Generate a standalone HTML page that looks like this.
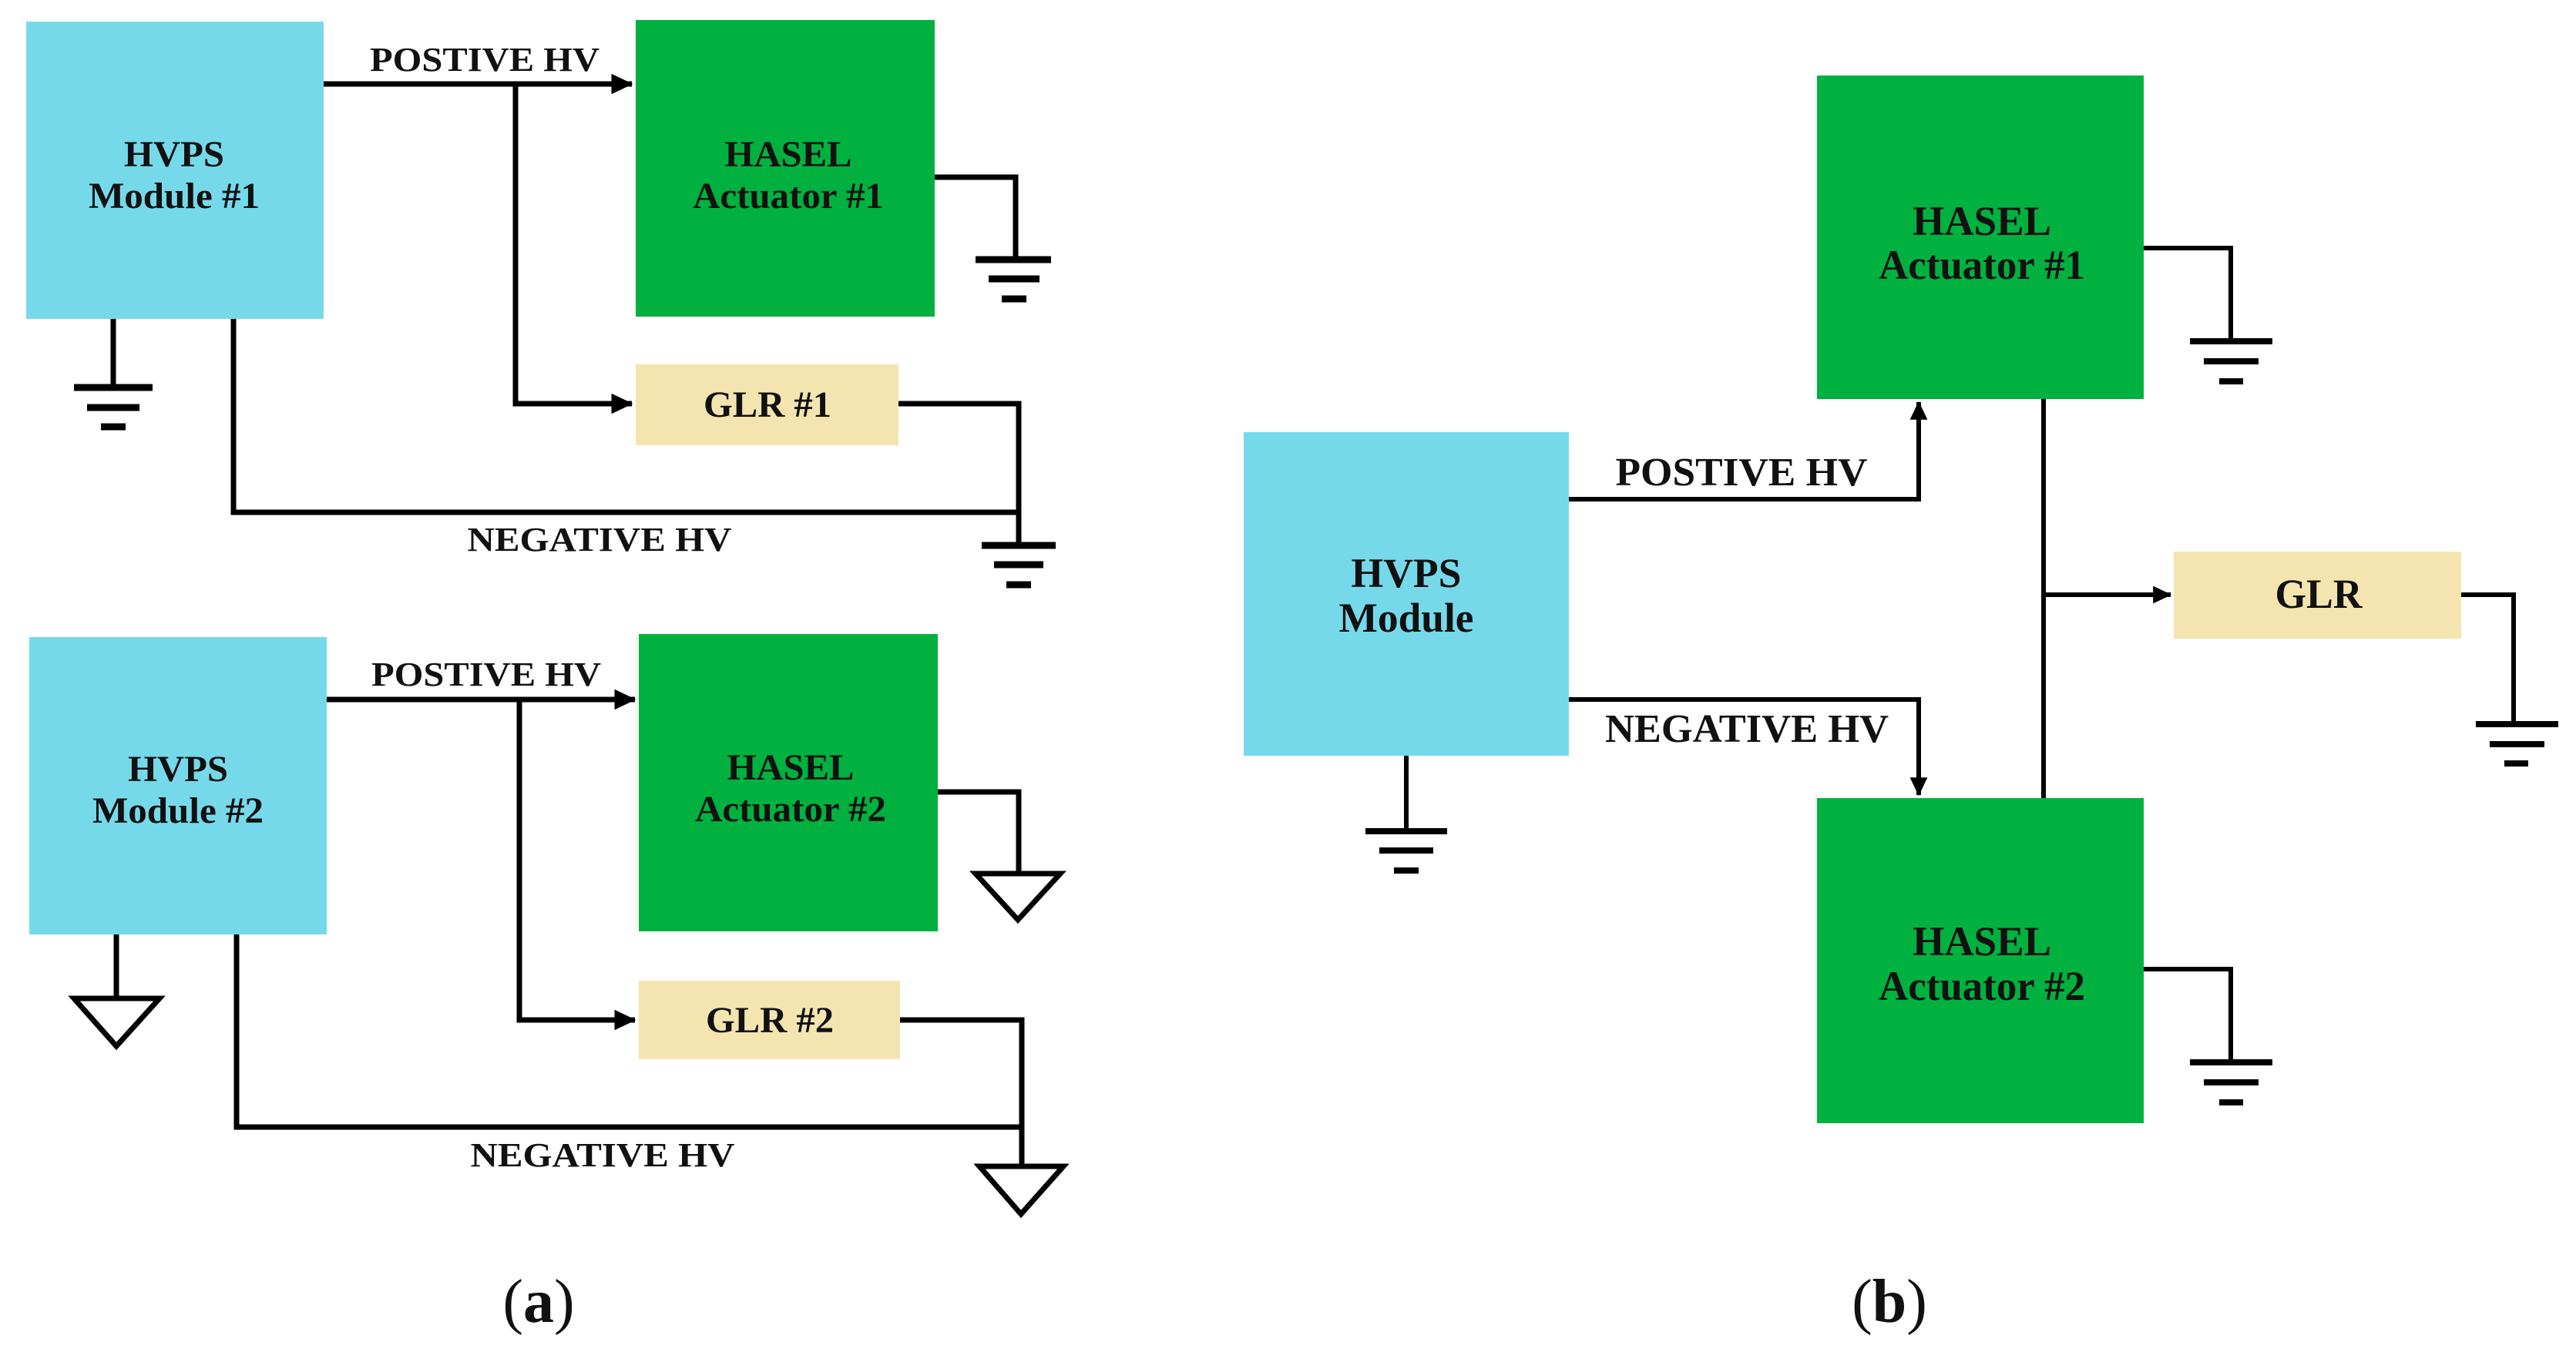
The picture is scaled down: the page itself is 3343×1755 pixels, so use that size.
<!DOCTYPE html>
<html><head><meta charset="utf-8"><style>
html,body{margin:0;padding:0;background:#fff}
svg{display:block}
text{font-family:"Liberation Serif",serif;font-weight:bold;fill:#111}
</style></head><body>
<svg width="3343" height="1755" viewBox="0 0 3343 1755" xmlns="http://www.w3.org/2000/svg">
<defs>
<marker id="ar" markerWidth="5" markerHeight="5" refX="3.8" refY="2.5" orient="auto" markerUnits="strokeWidth">
<path d="M0,0.6 L4,2.5 L0,4.4 Z" fill="#000"/></marker>
</defs>
<g fill="none" stroke="#000" stroke-width="7">
<rect x="34" y="28" width="386" height="386" fill="#76d9ea" stroke="none"/>
<rect x="825" y="26" width="388" height="385" fill="#00b140" stroke="none"/>
<rect x="825" y="473" width="341" height="105" fill="#f4e4b0" stroke="none"/>
<line x1="420" y1="109" x2="820" y2="109" marker-end="url(#ar)"/>
<polyline points="669,109 669,524 820,524" marker-end="url(#ar)"/>
<polyline points="1213,230 1318,230 1318,337"/>
<polyline points="147,414 147,503"/>
<polyline points="303,414 303,665 1322,665"/>
<polyline points="1166,524 1322,524 1322,708"/>
<g stroke-width="9">
<line x1="1266" y1="337" x2="1364" y2="337"/><line x1="1283" y1="362" x2="1349" y2="362"/><line x1="1300" y1="388" x2="1332" y2="388"/>
<line x1="96" y1="503" x2="198" y2="503"/><line x1="113" y1="529" x2="181" y2="529"/><line x1="131" y1="554" x2="163" y2="554"/>
<line x1="1274" y1="708" x2="1370" y2="708"/><line x1="1290" y1="733" x2="1354" y2="733"/><line x1="1306" y1="759" x2="1338" y2="759"/>
</g>
<rect x="38" y="827" width="386" height="386" fill="#76d9ea" stroke="none"/>
<rect x="829" y="823" width="388" height="386" fill="#00b140" stroke="none"/>
<rect x="829" y="1273" width="339" height="102" fill="#f4e4b0" stroke="none"/>
<line x1="424" y1="908" x2="824" y2="908" marker-end="url(#ar)"/>
<polyline points="674,908 674,1324 824,1324" marker-end="url(#ar)"/>
<polyline points="1217,1028 1322,1028 1322,1134"/>
<polygon points="1266,1134 1376,1134 1321,1194"/>
<polyline points="151,1213 151,1296"/>
<polygon points="96,1296 207,1296 151,1358"/>
<polyline points="307,1213 307,1463 1326,1463"/>
<polyline points="1168,1324 1326,1324 1326,1514"/>
<polygon points="1271,1514 1380,1514 1325,1576"/>
<rect x="1614" y="561" width="422" height="420" fill="#76d9ea" stroke="none"/>
<rect x="2358" y="98" width="424" height="420" fill="#00b140" stroke="none"/>
<rect x="2358" y="1036" width="424" height="422" fill="#00b140" stroke="none"/>
<rect x="2821" y="716" width="373" height="113" fill="#f4e4b0" stroke="none"/>
<g stroke-width="6">
<polyline points="2036,648 2490,648 2490,522" marker-end="url(#ar)"/>
<polyline points="2036,908 2490,908 2490,1032" marker-end="url(#ar)"/>
<line x1="2652" y1="518" x2="2652" y2="1036"/>
<line x1="2652" y1="772" x2="2817" y2="772" marker-end="url(#ar)"/>
<polyline points="2782,322 2895,322 2895,443"/>
<polyline points="2782,1258 2895,1258 2895,1379"/>
<polyline points="3194,772 3262,772 3262,940"/>
<polyline points="1825,981 1825,1079"/>
</g>
<g stroke-width="8">
<line x1="2842" y1="443" x2="2949" y2="443"/><line x1="2860" y1="469" x2="2931" y2="469"/><line x1="2880" y1="495" x2="2911" y2="495"/>
<line x1="2842" y1="1379" x2="2949" y2="1379"/><line x1="2860" y1="1405" x2="2931" y2="1405"/><line x1="2880" y1="1431" x2="2911" y2="1431"/>
<line x1="3213" y1="940" x2="3320" y2="940"/><line x1="3231" y1="966" x2="3302" y2="966"/><line x1="3250" y1="991" x2="3281" y2="991"/>
<line x1="1772" y1="1079" x2="1878" y2="1079"/><line x1="1790" y1="1104" x2="1860" y2="1104"/><line x1="1809" y1="1130" x2="1841" y2="1130"/>
</g>
</g>
<g text-anchor="middle">
<text x="629" y="92" font-size="44" textLength="298" lengthAdjust="spacingAndGlyphs">POSTIVE HV</text>
<text x="226" y="216" font-size="48" textLength="130" lengthAdjust="spacingAndGlyphs">HVPS</text>
<text x="226" y="270" font-size="48" textLength="222" lengthAdjust="spacingAndGlyphs">Module #1</text>
<text x="1023" y="216" font-size="48" textLength="165" lengthAdjust="spacingAndGlyphs">HASEL</text>
<text x="1023" y="270" font-size="48" textLength="248" lengthAdjust="spacingAndGlyphs">Actuator #1</text>
<text x="996" y="541" font-size="48" textLength="166" lengthAdjust="spacingAndGlyphs">GLR #1</text>
<text x="778" y="715" font-size="44" textLength="343" lengthAdjust="spacingAndGlyphs">NEGATIVE HV</text>
<text x="631" y="890" font-size="44" textLength="298" lengthAdjust="spacingAndGlyphs">POSTIVE HV</text>
<text x="231" y="1014" font-size="48" textLength="130" lengthAdjust="spacingAndGlyphs">HVPS</text>
<text x="231" y="1068" font-size="48" textLength="222" lengthAdjust="spacingAndGlyphs">Module #2</text>
<text x="1026" y="1012" font-size="48" textLength="165" lengthAdjust="spacingAndGlyphs">HASEL</text>
<text x="1026" y="1066" font-size="48" textLength="248" lengthAdjust="spacingAndGlyphs">Actuator #2</text>
<text x="999" y="1340" font-size="48" textLength="166" lengthAdjust="spacingAndGlyphs">GLR #2</text>
<text x="782" y="1514" font-size="44" textLength="343" lengthAdjust="spacingAndGlyphs">NEGATIVE HV</text>
<text x="699" y="1716" font-size="80" style="font-weight:normal">(<tspan font-weight="bold">a</tspan>)</text>
<text x="2260" y="630" font-size="52" textLength="327" lengthAdjust="spacingAndGlyphs">POSTIVE HV</text>
<text x="2267" y="963" font-size="52" textLength="368" lengthAdjust="spacingAndGlyphs">NEGATIVE HV</text>
<text x="1825" y="762" font-size="54" textLength="143" lengthAdjust="spacingAndGlyphs">HVPS</text>
<text x="1825" y="820" font-size="54" textLength="175" lengthAdjust="spacingAndGlyphs">Module</text>
<text x="2572" y="305" font-size="54" textLength="180" lengthAdjust="spacingAndGlyphs">HASEL</text>
<text x="2572" y="362" font-size="54" textLength="268" lengthAdjust="spacingAndGlyphs">Actuator #1</text>
<text x="2572" y="1240" font-size="54" textLength="180" lengthAdjust="spacingAndGlyphs">HASEL</text>
<text x="2572" y="1298" font-size="54" textLength="268" lengthAdjust="spacingAndGlyphs">Actuator #2</text>
<text x="3009" y="789" font-size="54" textLength="113" lengthAdjust="spacingAndGlyphs">GLR</text>
<text x="2452" y="1716" font-size="80" style="font-weight:normal">(<tspan font-weight="bold">b</tspan>)</text>
</g>
</svg>
</body></html>
